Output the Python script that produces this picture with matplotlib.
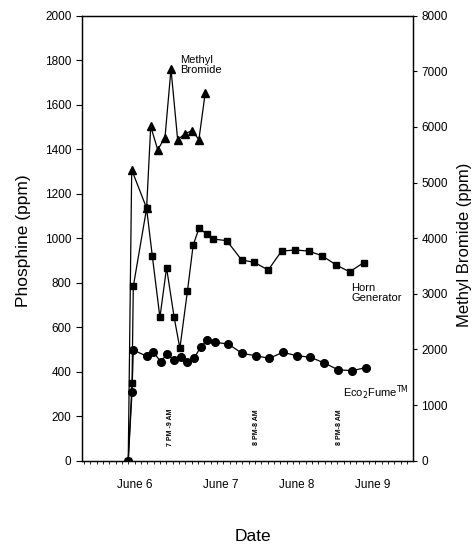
import numpy as np
import matplotlib
matplotlib.use("Agg")
from matplotlib import pyplot as plt
from matplotlib.ticker import MultipleLocator

plt.rcParams['font.family'] = ['Liberation Sans', 'DejaVu Sans']

# hours after start of fumigation
eco_hours = [0, 1.2, 1.6, 5.8, 7.9, 10.2, 12.3, 14.5, 16.6, 18.7, 20.8, 22.9, 25.0,
             27.5, 31.6, 36.0, 40.2, 44.5, 48.8, 53.2, 57.4, 61.8, 66.3, 70.7, 75.0]
eco_ppm = [0, 310, 497, 470, 490, 445, 480, 452, 467, 445, 460, 512, 542,
           532, 524, 482, 472, 460, 487, 472, 465, 440, 408, 405, 418]

horn_hours = [0, 1.2, 1.6, 5.8, 7.6, 10.0, 12.1, 14.5, 16.3, 18.7, 20.5, 22.4, 24.8,
              26.9, 31.1, 35.8, 39.7, 44.2, 48.4, 52.8, 57.0, 61.2, 65.7, 69.9, 74.3]
horn_ppm = [0, 350, 783, 1134, 920, 644, 867, 644, 505, 763, 969, 1047, 1017,
            996, 989, 902, 892, 857, 942, 947, 942, 921, 879, 849, 890]

mb_hours = [0, 1.1, 5.8, 7.1, 9.3, 11.6, 13.5, 15.6, 17.9, 20.2, 22.3, 24.3]
mb_ppm = [0, 5230, 4540, 6010, 5590, 5810, 7040, 5770, 5880, 5935, 5770, 6610]

day_ticks = [2.1, 29.2, 53.2, 77.3]
day_labels = ['June 6', 'June 7', 'June 8', 'June 9']

night_hours = [13.2, 40.5, 66.6]
night_labels = ['7 PM -9 AM', '8 PM-8 AM', '8 PM-8 AM']

fig = plt.figure(figsize=(4.75, 5.45), dpi=100)
ax = fig.add_axes([0.1726, 0.1547, 0.6969, 0.8165])
ax2 = ax.twinx()

ax.plot(horn_hours, horn_ppm, color='k', lw=0.9, marker='s', ms=5)
ax.plot(eco_hours, eco_ppm, color='k', lw=0.9, marker='o', ms=5.5)
ax2.plot(mb_hours, mb_ppm, color='k', lw=0.9, marker='^', ms=6)

ax.set_xlim(-14.6, 89.9)
ax.set_ylim(0, 2000)
ax2.set_ylim(0, 8000)
ax.set_yticks(np.arange(0, 2001, 200))
ax2.set_yticks(np.arange(0, 8001, 1000))

ax.set_xticks(day_ticks)
ax.set_xticklabels(day_labels)
ax.xaxis.set_minor_locator(MultipleLocator(2))
ax.tick_params(axis='x', which='major', length=0, pad=13, labelsize=8.5)
ax.tick_params(axis='x', which='minor', length=2.5, width=0.6, direction='out')
ax.tick_params(axis='y', length=4.5, width=0.8, pad=3, labelsize=8.5)
ax2.tick_params(axis='y', length=3, width=0.8, pad=3, labelsize=8.5)

for a in (ax, ax2):
    for s in a.spines.values():
        s.set_linewidth(0.9)

ax.set_ylabel('Phosphine (ppm)', fontsize=12.5)
ax.yaxis.set_label_coords(-0.153, 0.494)
ax2.set_ylabel('Methyl Bromide (ppm)', fontsize=12)
ax2.yaxis.set_label_coords(1.133, 0.485)
ax.set_xlabel('Date', fontsize=12.5)
ax.xaxis.set_label_coords(0.517, -0.1535)

ax.text(16.4, 1823, 'Methyl\nBromide', fontsize=8, ha='left', va='top', linespacing=1.0)
ax.text(70.5, 800, 'Horn\nGenerator', fontsize=8, ha='left', va='top', linespacing=1.0)
ax.text(67.8, 304, r'Eco$_2$Fume$^{\rm TM}$', fontsize=8, ha='left', va='center')

for h, lab in zip(night_hours, night_labels):
    ax.text(h, 151, lab, rotation=90, fontsize=5, fontweight='bold',
            ha='center', va='center')

fig.savefig('out.png', dpi=100)
